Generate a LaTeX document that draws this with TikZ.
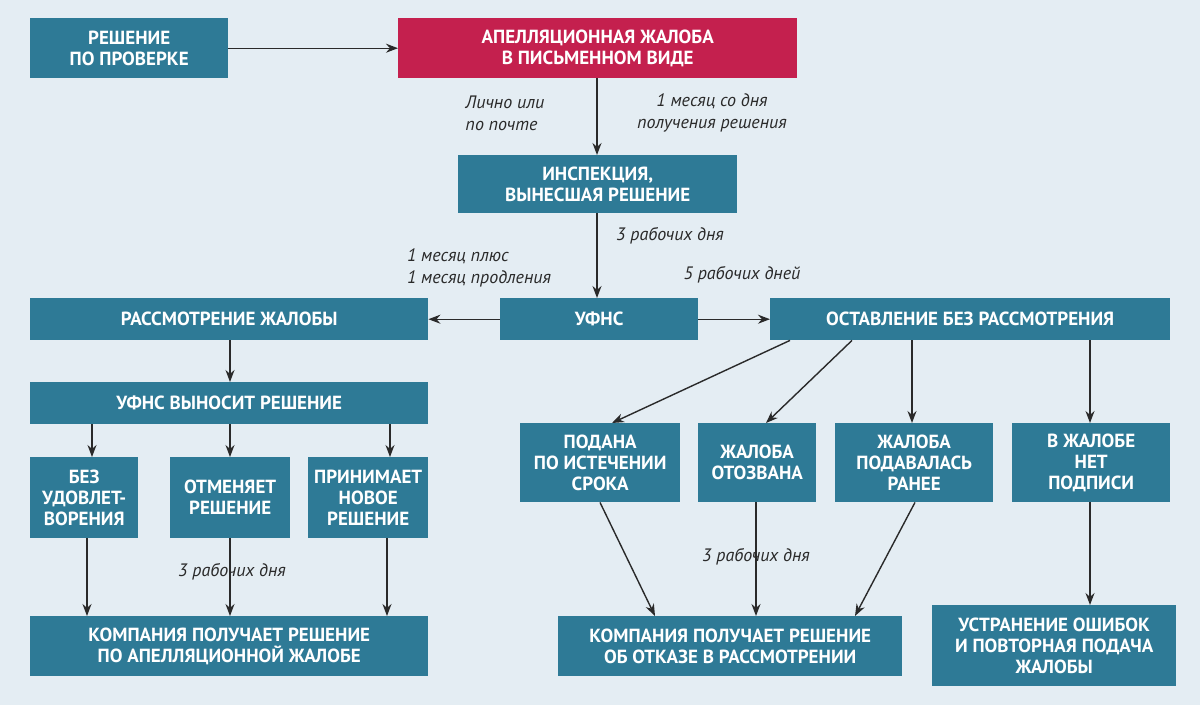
\documentclass[tikz,border=0pt]{standalone}
\usepackage{fontspec}
\setmainfont{PT Sans}
\usetikzlibrary{arrows.meta}
\definecolor{bgc}{HTML}{E4EDF3}
\definecolor{teal}{HTML}{2E7A96}
\definecolor{redb}{HTML}{C4204E}
\definecolor{txtc}{HTML}{2A2A2A}
\begin{document}
\begin{tikzpicture}[x=1pt,y=-1pt,
  box/.style={fill=teal,text=white,font=\fontsize{19}{21}\selectfont\bfseries,align=center,inner sep=0pt,anchor=north west},
  lab/.style={font=\fontsize{18}{22}\selectfont\itshape,text=txtc,align=center},
  arr/.style={-{Stealth[length=12pt,width=9pt]},line width=1.4pt,draw=txtc}]
\fill[bgc] (0,0) rectangle (1200,705);
\useasboundingbox (0,0) rectangle (1200,705);
\newcommand{\bx}[6][teal]{\node[box,fill=#1,minimum width=#4,minimum height=#5] (#2) at #3 {#6};}
\bx{resh}{(30,18)}{198}{60}{РЕШЕНИЕ\\ПО ПРОВЕРКЕ}
\bx[redb]{apel}{(398,18)}{399}{60}{АПЕЛЛЯЦИОННАЯ ЖАЛОБА\\В ПИСЬМЕННОМ ВИДЕ}
\bx{insp}{(458,155)}{279}{58}{ИНСПЕКЦИЯ,\\ВЫНЕСШАЯ РЕШЕНИЕ}
\bx{ufns}{(500,298)}{198}{42}{УФНС}
\bx{rassm}{(30,298)}{398}{42}{РАССМОТРЕНИЕ ЖАЛОБЫ}
\bx{ost}{(770,298)}{400}{42}{ОСТАВЛЕНИЕ БЕЗ РАССМОТРЕНИЯ}
\bx{vyn}{(30,382)}{398}{42}{УФНС ВЫНОСИТ РЕШЕНИЕ}
\bx{bez}{(30,457)}{108}{81}{БЕЗ\\УДОВЛЕТ-\\ВОРЕНИЯ}
\bx{otm}{(170,457)}{120}{81}{ОТМЕНЯЕТ\\РЕШЕНИЕ}
\bx{prin}{(308,457)}{120}{81}{ПРИНИМАЕТ\\НОВОЕ\\РЕШЕНИЕ}
\bx{kompL}{(30,616)}{398}{60}{КОМПАНИЯ ПОЛУЧАЕТ РЕШЕНИЕ\\ПО АПЕЛЛЯЦИОННОЙ ЖАЛОБЕ}
\bx{pod}{(520,423)}{160}{79}{ПОДАНА\\ПО ИСТЕЧЕНИИ\\СРОКА}
\bx{otz}{(698,423)}{118}{79}{ЖАЛОБА\\ОТОЗВАНА}
\bx{podav}{(835,423)}{158}{79}{ЖАЛОБА\\ПОДАВАЛАСЬ\\РАНЕЕ}
\bx{podp}{(1012,423)}{158}{79}{В ЖАЛОБЕ\\НЕТ\\ПОДПИСИ}
\bx{kompM}{(558,616)}{344}{60}{КОМПАНИЯ ПОЛУЧАЕТ РЕШЕНИЕ\\ОБ ОТКАЗЕ В РАССМОТРЕНИИ}
\bx{ustr}{(932,605)}{244}{81}{УСТРАНЕНИЕ ОШИБОК\\И ПОВТОРНАЯ ПОДАЧА\\ЖАЛОБЫ}
% arrows
\draw[arr] (resh.east) -- (apel.west);
\draw[arr] (apel.south -| 597,0) -- (insp.north -| 597,0);
\draw[arr] (insp.south -| 597,0) -- (ufns.north -| 597,0);
\draw[arr] (ufns.west) -- (rassm.east);
\draw[arr] (ufns.east) -- (ost.west);
\draw[arr] (rassm.south -| 230,0) -- (vyn.north -| 230,0);
\draw[arr] (vyn.south -| 92,0) -- (bez.north -| 92,0);
\draw[arr] (vyn.south -| 230,0) -- (otm.north -| 230,0);
\draw[arr] (vyn.south -| 390,0) -- (prin.north -| 390,0);
\draw[arr] (bez.south -| 87,0) -- (kompL.north -| 87,0);
\draw[arr] (otm.south -| 230,0) -- (kompL.north -| 230,0);
\draw[arr] (prin.south -| 387,0) -- (kompL.north -| 387,0);
\draw[arr] (ost.south -| 790,0) -- (pod.north -| 612,0);
\draw[arr] (ost.south -| 852,0) -- (otz.north -| 766,0);
\draw[arr] (ost.south -| 912,0) -- (podav.north -| 912,0);
\draw[arr] (ost.south -| 1090,0) -- (podp.north -| 1090,0);
\draw[arr] (pod.south -| 600,0) -- (kompM.north -| 655,0);
\draw[arr] (otz.south -| 756,0) -- (kompM.north -| 756,0);
\draw[arr] (podav.south -| 915,0) -- (kompM.north -| 855,0);
\draw[arr] (podp.south -| 1090,0) -- (ustr.north -| 1090,0);
% labels
\node[lab,align=left] (l1) at (505,113) {Лично или\\по почте};
\node[lab] (l2) at (712,113) {1 месяц со дня\\получения решения};
\node[lab] (l3) at (670,236) {3 рабочих дня};
\node[lab,align=left] (l4) at (479,268) {1 месяц плюс\\1 месяц продления};
\node[lab] (l5) at (742,275) {5 рабочих дней};
\node[lab] (l6) at (232,572) {3 рабочих дня};
\node[lab] (l7) at (756,557) {3 рабочих дня};
\end{tikzpicture}
\end{document}
